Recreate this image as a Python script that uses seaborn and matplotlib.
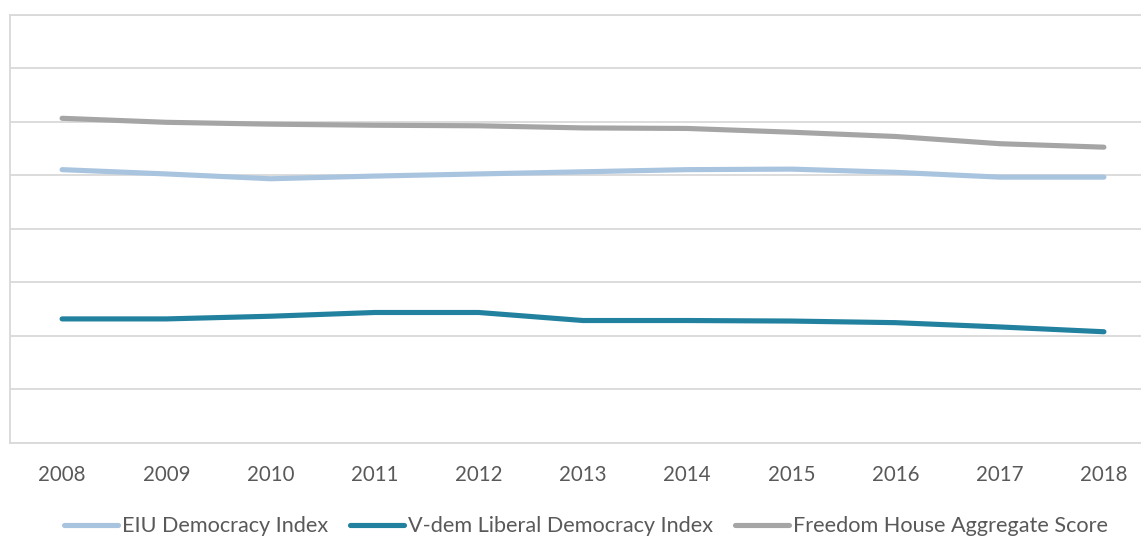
import matplotlib
matplotlib.use("Agg")
import matplotlib.pyplot as plt
import pandas as pd
import seaborn as sns

# Annual scores, 2008-2018, on a common 0-8 display scale
years = [2008, 2009, 2010, 2011, 2012, 2013, 2014, 2015, 2016, 2017, 2018]
eiu = [5.10, 5.02, 4.93, 4.98, 5.02, 5.06, 5.10, 5.11, 5.05, 4.96, 4.96]
vdem = [2.31, 2.31, 2.36, 2.43, 2.43, 2.28, 2.28, 2.27, 2.24, 2.16, 2.07]
freedom_house = [6.06, 5.985, 5.95, 5.93, 5.92, 5.88, 5.87, 5.80, 5.72, 5.585, 5.52]

series_names = ["EIU Democracy Index", "V-dem Liberal Democracy Index",
                "Freedom House Aggregate Score"]
series_values = [eiu, vdem, freedom_house]
series_colors = ["#A9C4DF", "#21819F", "#A5A5A5"]

df = pd.concat(
    [pd.DataFrame({"year": years, "score": vals, "series": name})
     for name, vals in zip(series_names, series_values)],
    ignore_index=True,
)

sns.set_style("white")
plt.rcParams["font.family"] = ["Lato", "DejaVu Sans"]

fig = plt.figure(figsize=(11.41, 5.37), dpi=100)
ax = fig.add_axes([10 / 1141, (537 - 442.5) / 537, 1146 / 1141, 428 / 537])

sns.lineplot(
    data=df, x="year", y="score", hue="series", hue_order=series_names,
    palette=dict(zip(series_names, series_colors)), linewidth=3.7,
    ax=ax, legend=False, sort=False,
)
for line in ax.lines:
    line.set_solid_capstyle("round")
    line.set_solid_joinstyle("round")

grid_color = "#D9D9D9"
ax.set_xlim(2007.5, 2018.5)
ax.set_ylim(0, 8)
ax.set_yticks(range(0, 9))
ax.set_yticklabels([])
ax.yaxis.grid(True, color=grid_color, linewidth=1.3)
ax.set_axisbelow(True)
ax.set_xticks(years)
ax.set_xticklabels([str(y) for y in years])
ax.tick_params(axis="x", length=0, pad=16, labelsize=14.8, labelcolor="#595959")
ax.tick_params(axis="y", length=0)
ax.set_xlabel("")
ax.set_ylabel("")
for side in ["left", "bottom", "top"]:
    ax.spines[side].set_visible(True)
    ax.spines[side].set_color(grid_color)
    ax.spines[side].set_linewidth(1.3)
ax.spines["right"].set_visible(False)

handles = [plt.Line2D([], [], color=c, linewidth=3.7, solid_capstyle="round")
           for c in series_colors]
fig.legend(
    handles, series_names, loc="center", bbox_to_anchor=(586 / 1141, 10.5 / 537),
    ncol=3, frameon=False, fontsize=15.6, labelcolor="#595959",
    handlelength=2.5, handletextpad=0.2, columnspacing=1.0,
)

fig.savefig("out.png", dpi=100, facecolor="white")
